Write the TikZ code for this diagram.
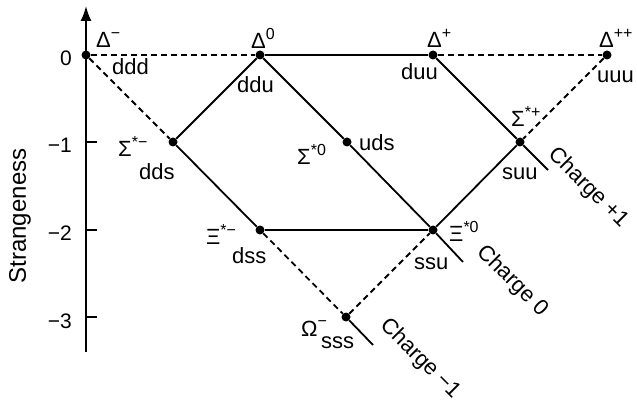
\documentclass[tikz,border=0pt]{standalone}
\usepackage{fontspec}
\setmainfont{Liberation Sans}
\usetikzlibrary{arrows.meta}
\newcommand\spx[1]{\raisebox{0.45em}{\fontsize{16}{16}\selectfont #1}}
\begin{document}
\begin{tikzpicture}[x=1pt,y=-1pt,
  pt/.style={circle,fill=black,inner sep=0pt,minimum size=9pt},
  lab/.style={inner sep=0pt,anchor=base west,font=\fontsize{22}{24}\selectfont},
  ticklab/.style={inner sep=0pt,anchor=base east,font=\fontsize{21}{24}\selectfont},
  chg/.style={inner sep=0pt,anchor=center,rotate=-45,font=\fontsize{22}{24}\selectfont},
  solidline/.style={line width=1.8pt},
  dashline/.style={line width=1.8pt,dash pattern=on 6pt off 4pt},
  axisline/.style={line width=1.8pt}]
\useasboundingbox (0,0) rectangle (637,403);

% axis
\coordinate (axbot) at (86,352);
\coordinate (axtop) at (86,6);
\draw[axisline,-{Latex[length=15pt,width=11pt]}] (axbot) -- (axtop);
\foreach \yy in {142,230,317} \draw[axisline] (86,\yy) -- (97,\yy);
\node[ticklab] (t0) at (72,66) {0};
\node[ticklab] (t1) at (72,153) {−1};
\node[ticklab] (t2) at (72,241) {−2};
\node[ticklab] (t3) at (72,328) {−3};
\node[inner sep=0pt,rotate=90,font=\fontsize{24}{26}\selectfont] (slab) at (20,216) {Strangeness};

% points
\node[pt] (dm)  at (86,55) {};
\node[pt] (d0)  at (260,55) {};
\node[pt] (dp)  at (433,55) {};
\node[pt] (dpp) at (607,55) {};
\node[pt] (sm)  at (173,142) {};
\node[pt] (s0)  at (347,142) {};
\node[pt] (sp)  at (520,142) {};
\node[pt] (xm)  at (260,230) {};
\node[pt] (x0)  at (433,230) {};
\node[pt] (om)  at (346,317) {};
\coordinate (c1end) at (548,170);
\coordinate (c0end) at (463,262);
\coordinate (cm1end) at (373,345);

% dashed edges
\draw[dashline] (dm) -- (d0);
\draw[dashline] (dp) -- (dpp);
\draw[dashline] (dm) -- (sm);
\draw[dashline] (dpp) -- (sp);
\draw[dashline] (xm) -- (om);
\draw[dashline] (om) -- (x0);
% solid edges
\draw[solidline] (d0) -- (dp);
\draw[solidline] (d0) -- (sm);
\draw[solidline] (sm) -- (xm);
\draw[solidline] (xm) -- (x0);
\draw[solidline] (d0) -- (s0);
\draw[solidline] (s0) -- (x0);
\draw[solidline] (x0) -- (c0end);
\draw[solidline] (dp) -- (sp);
\draw[solidline] (sp) -- (c1end);
\draw[solidline] (sp) -- (x0);
\draw[solidline] (om) -- (cm1end);

% labels
\node[lab] (ldm)  at (96,48)  {Δ\spx{−}};
\node[lab] (qdm)  at (112,75) {ddd};
\node[lab] (ld0)  at (251,49) {Δ\spx{0}};
\node[lab] (qd0)  at (237,93) {ddu};
\node[lab] (ldp)  at (427,48) {Δ\spx{+}};
\node[lab] (qdp)  at (401,80) {duu};
\node[lab] (ldpp) at (599,48) {Δ\spx{++}};
\node[lab] (qdpp) at (597,83) {uuu};
\node[lab] (lsm)  at (118,157) {Σ\spx{*−}};
\node[lab] (qsm)  at (139,180) {dds};
\node[lab] (ls0)  at (297,165) {Σ\spx{*0}};
\node[lab] (qs0)  at (359,151) {uds};
\node[lab] (lsp)  at (511,127) {Σ\spx{*+}};
\node[lab] (qsp)  at (502,180) {suu};
\node[lab] (lxm)  at (206,245) {Ξ\spx{*−}};
\node[lab] (qxm)  at (232,264) {dss};
\node[lab] (lx0)  at (449,242) {Ξ\spx{*0}};
\node[lab] (qx0)  at (414,270) {ssu};
\node[lab] (lom)  at (301,336) {Ω\spx{−}};
\node[lab] (qom)  at (321,348) {sss};

% charge labels
\node[chg] (cp1) at (588,188) {Charge +1};
\node[chg] (c00) at (512,281) {Charge 0};
\node[chg] (cm1) at (420,359) {Charge −1};
\end{tikzpicture}
\end{document}
